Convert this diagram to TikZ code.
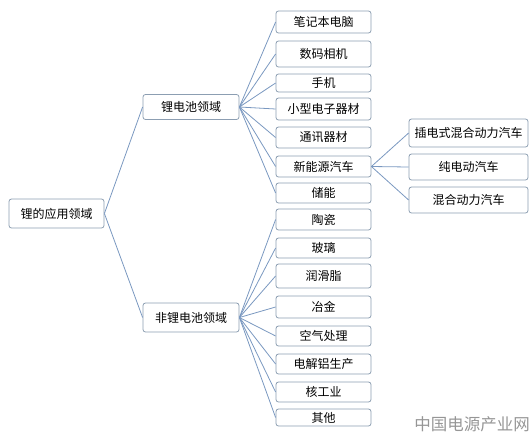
\documentclass[tikz,border=0pt]{standalone}
\usepackage{fontspec}
\setmainfont{Noto Sans CJK SC}
\begin{document}
\begin{tikzpicture}[x=1pt, y=-1pt, font=\fontsize{12}{13}\selectfont,
      box/.style={draw=boxline, fill=white, rounded corners=2.5pt, line width=0.8pt,
        inner sep=1pt, align=center},
      root/.style={box, minimum width=95pt, minimum height=29pt},
      mid/.style={box, minimum width=96pt, minimum height=25pt},
      leaf/.style={box, minimum width=95pt, minimum height=21pt},
      car/.style={box, minimum width=119pt, minimum height=26pt},
      link/.style={draw=linkblue, line width=0.8pt}]
    \definecolor{boxline}{RGB}{140,158,178}
    \definecolor{linkblue}{RGB}{122,152,192}
    \definecolor{markgray}{RGB}{150,150,150}
    \useasboundingbox (0,0) rectangle (532,437);
    % centres, in pixels from the top left
    \node[root] (lithium) at (56.5,213.5) {锂的应用领域};
    \node[mid] (battery) at (191,107) {锂电池领域};
    \node[mid, minimum height=29pt] (other) at (191,317.5) {非锂电池领域};
    % battery uses
    \node[leaf, minimum height=22pt] (laptop) at (323.5,22) {笔记本电脑};
    \node[leaf, minimum height=26pt] (camera) at (323.5,54) {数码相机};
    \node[leaf, minimum height=18pt] (phone) at (323.5,83) {手机};
    \node[leaf, minimum height=22pt] (gadget) at (323.5,109) {小型电子器材};
    \node[leaf] (comms) at (323.5,137.5) {通讯器材};
    \node[leaf] (ev) at (323.5,166.5) {新能源汽车};
    \node[leaf, minimum height=20pt] (storage) at (323.5,193) {储能};
    % vehicle kinds
    \node[car, minimum height=28pt] (phev) at (468.5,133) {插电式混合动力汽车};
    \node[car] (bev) at (468.5,167) {纯电动汽车};
    \node[car] (hev) at (468.5,200) {混合动力汽车};
    % other uses
    \node[leaf] (ceramic) at (323.5,219.5) {陶瓷};
    \node[leaf, minimum height=20pt] (glass) at (323.5,248) {玻璃};
    \node[leaf, minimum height=24pt] (grease) at (323.5,276) {润滑脂};
    \node[leaf, minimum height=22pt] (metal) at (323.5,307) {冶金};
    \node[leaf, minimum height=20pt] (air) at (323.5,336) {空气处理};
    \node[leaf, minimum height=20pt] (alu) at (323.5,364) {电解铝生产};
    \node[leaf, minimum height=20pt] (nuclear) at (323.5,392) {核工业};
    \node[leaf, minimum height=17pt] (misc) at (323.5,417.5) {其他};
    \node[text=markgray, font=\fontsize{16.5}{17}\selectfont, inner sep=0pt]
      (mark) at (472,424) {中国电源产业网};
    % connectors
    \draw[link] (lithium.east) -- (battery.west);
    \draw[link] (lithium.east) -- (other.west);
    \draw[link] (battery.east) -- (laptop.west);
    \draw[link] (battery.east) -- (camera.west);
    \draw[link] (battery.east) -- (phone.west);
    \draw[link] (battery.east) -- (gadget.west);
    \draw[link] (battery.east) -- (comms.west);
    \draw[link] (battery.east) -- (ev.west);
    \draw[link] (battery.east) -- (storage.west);
    \draw[link] (ev.east) -- (phev.west);
    \draw[link] (ev.east) -- (bev.west);
    \draw[link] (ev.east) -- (hev.west);
    \draw[link] (other.east) -- (ceramic.west);
    \draw[link] (other.east) -- (glass.west);
    \draw[link] (other.east) -- (grease.west);
    \draw[link] (other.east) -- (metal.west);
    \draw[link] (other.east) -- (air.west);
    \draw[link] (other.east) -- (alu.west);
    \draw[link] (other.east) -- (nuclear.west);
    \draw[link] (other.east) -- (misc.west);
  \end{tikzpicture}
\end{document}
